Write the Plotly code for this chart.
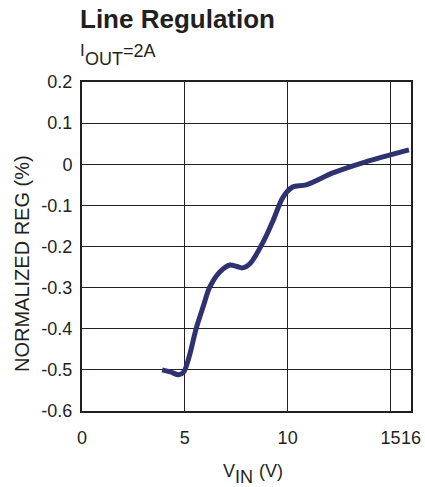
import plotly.graph_objects as go

vin = [3.9, 4.3, 4.7, 4.95, 5.2, 5.55, 5.9, 6.2, 6.7, 7.2, 7.5, 7.8, 8.2, 8.8, 9.3, 9.7, 9.95, 10.25, 10.9, 12.2, 13.8, 15.9]
reg = [-0.50, -0.505, -0.512, -0.505, -0.47, -0.40, -0.345, -0.30, -0.262, -0.245, -0.248, -0.252, -0.24, -0.19, -0.136, -0.087, -0.068, -0.055, -0.05, -0.021, 0.006, 0.035]

x_ticks = [0, 5, 10, 15, 16]
y_ticks = [0.2, 0.1, 0, -0.1, -0.2, -0.3, -0.4, -0.5, -0.6]
y_labels = ["0.2", "0.1", "0", "-0.1", "-0.2", "-0.3", "-0.4", "-0.5", "-0.6"]

font = "Liberation Sans, Arial, sans-serif"
ink = "#231f20"
W, H = 425, 487
L, R, T, B = 82, 14, 82, 76
PW, PH = W - L - R, H - T - B


def px(xp):
    return (xp - L) / PW


def py(yp):
    return (H - B - yp) / PH


def label(text, x, y, size, xanchor="left", angle=0):
    return dict(text=text, x=px(x), y=py(y), xref="paper", yref="paper",
                xanchor=xanchor, yanchor="middle", textangle=angle,
                showarrow=False, borderpad=0, font=dict(size=size, color=ink))


fig = go.Figure()
fig.add_trace(go.Scatter(x=vin, y=reg, mode="lines",
                         line=dict(color="#2e3270", width=5, shape="spline", smoothing=0.8),
                         hoverinfo="skip"))

fig.update_layout(
    width=W, height=H,
    margin=dict(l=L, r=R, t=T, b=B, autoexpand=False),
    paper_bgcolor="white", plot_bgcolor="white",
    showlegend=False,
    font=dict(family=font, size=18, color=ink),
    xaxis=dict(range=[0, 16], tickvals=x_ticks, ticktext=[str(v) for v in x_ticks],
               tickangle=0,
               showgrid=True, gridcolor=ink, gridwidth=1,
               showline=True, linecolor=ink, linewidth=2, mirror=True,
               zeroline=False, ticks="", ticklen=0, ticklabelstandoff=9,
               tickfont=dict(size=18)),
    yaxis=dict(range=[-0.6, 0.2], tickvals=y_ticks, ticktext=y_labels,
               showgrid=True, gridcolor=ink, gridwidth=1,
               showline=True, linecolor=ink, linewidth=2, mirror=True,
               zeroline=False, ticks="", ticklen=0, ticklabelstandoff=4,
               tickfont=dict(size=18)),
    annotations=[
        label("<b>Line Regulation</b>", 79, 19, 26),
        # subtitle I_OUT=2A
        label("I", 79, 50.5, 17),
        label("OUT", 84, 59, 18),
        label("=2A", 122, 51, 18),
        # x axis title V_IN (V)
        label("V", 222, 470.5, 18),
        label("IN", 234, 477, 18),
        label("(V)", 258, 470.5, 18),
        # y axis title
        label("NORMALIZED REG (%)", 22, 264, 20, xanchor="center", angle=-90),
    ],
)

fig.write_html("out.html", config={"displayModeBar": False},
               post_script="document.body.style.margin='0';document.body.style.overflow='hidden';")
